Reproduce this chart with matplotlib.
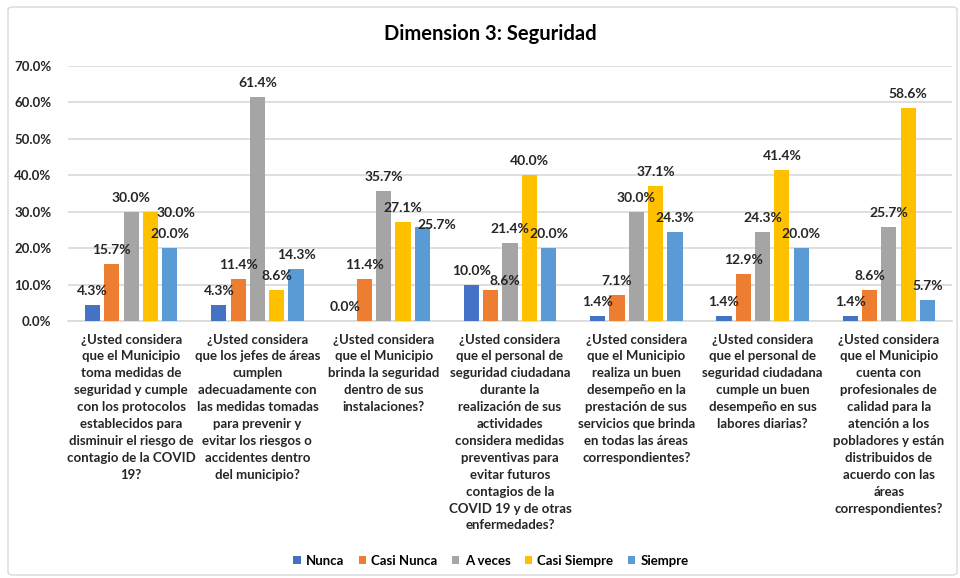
import matplotlib.pyplot as plt
import matplotlib.patches as mpatches
import numpy as np

plt.rcParams['font.family'] = ['Lato', 'DejaVu Sans']
plt.rcParams['font.weight'] = 'bold'

# Data
categories = [
    "¿Usted considera\nque el Municipio\ntoma medidas de\nseguridad y cumple\ncon los protocolos\nestablecidos para\ndisminuir el riesgo de\ncontagio de la COVID\n19?",
    "¿Usted considera\nque los jefes de áreas\ncumplen\nadecuadamente con\nlas medidas tomadas\npara prevenir y\nevitar los riesgos o\naccidentes dentro\ndel municipio?",
    "¿Usted considera\nque el Municipio\nbrinda la seguridad\ndentro de sus\ninstalaciones?",
    "¿Usted considera\nque el personal de\nseguridad ciudadana\ndurante la\nrealización de sus\nactividades\nconsidera medidas\npreventivas para\nevitar futuros\ncontagios de la\nCOVID 19 y de otras\nenfermedades?",
    "¿Usted considera\nque el Municipio\nrealiza un buen\ndesempeño en la\nprestación de sus\nservicios que brinda\nen todas las áreas\ncorrespondientes?",
    "¿Usted considera\nque el personal de\nseguridad ciudadana\ncumple un buen\ndesempeño en sus\nlabores diarias?",
    "¿Usted considera\nque el Municipio\ncuenta con\nprofesionales de\ncalidad para la\natención a los\npobladores y están\ndistribuidos de\nacuerdo con las\náreas\ncorrespondientes?",
]
series_names = ["Nunca", "Casi Nunca", "A veces", "Casi Siempre", "Siempre"]
nunca = [4.3, 4.3, 0.0, 10.0, 1.4, 1.4, 1.4]
casi_nunca = [15.7, 11.4, 11.4, 8.6, 7.1, 12.9, 8.6]
a_veces = [30.0, 61.4, 35.7, 21.4, 30.0, 24.3, 25.7]
casi_siempre = [30.0, 8.6, 27.1, 40.0, 37.1, 41.4, 58.6]
siempre = [20.0, 14.3, 25.7, 20.0, 24.3, 20.0, 5.7]
series = [nunca, casi_nunca, a_veces, casi_siempre, siempre]
colors = ["#4472C4", "#ED7D31", "#A5A5A5", "#FFC000", "#5B9BD5"]

# labels that were nudged aside in the original chart: (series, category) -> (dx, dy) px
label_nudge = {(3, 0): (26, -15), (4, 2): (14, -12), (1, 3): (14, -5)}

fig = plt.figure(figsize=(9.6, 5.78), dpi=100)
ax = fig.add_axes([68 / 960, 0.4446, 884 / 960, 0.4412])

px = 72 / 100  # pixels -> points
x = np.arange(len(categories))
width = 0.12
step = 0.153
for i, (vals, name, c) in enumerate(zip(series, series_names, colors)):
    xs = x + (i - 2) * step
    ax.bar(xs, vals, width, color=c, label=name, zorder=3)
    for j, (xv, v) in enumerate(zip(xs, vals)):
        dx, dy = label_nudge.get((i, j), (0, 0))
        ax.annotate(f"{v:.1f}%", (xv, v), xytext=(dx * px, (14 + dy) * px),
                    textcoords='offset points', ha='center', va='center',
                    fontsize=10, fontweight='bold', color='#262626', zorder=4)

ax.set_ylim(0, 70)
ax.set_xlim(-0.5, len(categories) - 0.5)
ax.set_yticks(np.arange(0, 71, 10))
ax.set_yticklabels([f"{v:.1f}%" for v in np.arange(0, 71, 10)],
                   fontsize=9.5, fontweight='bold', color='#262626')
ax.set_xticks(x)
ax.set_xticklabels(categories, fontsize=9.5, fontweight='bold',
                   color='#262626', linespacing=1.49, va='top')
ax.tick_params(axis='both', length=0)
ax.tick_params(axis='x', pad=9)
ax.tick_params(axis='y', pad=12)
ax.grid(axis='y', color='#D9D9D9', linewidth=1.2, zorder=0)
for s in ['top', 'right', 'left']:
    ax.spines[s].set_visible(False)
ax.spines['bottom'].set_color('#D9D9D9')
ax.spines['bottom'].set_linewidth(1.2)

# Title
fig.text(490 / 960, 1 - 34 / 578, "Dimension 3: Seguridad", ha='center', va='center',
         fontsize=14.5, fontweight='bold', color='#000000')

# Legend
fig.legend(loc='center', bbox_to_anchor=(491 / 960, 1 - 561 / 578), ncol=5,
           frameon=False, fontsize=9.5, handlelength=0.55, handleheight=0.55,
           handletextpad=0.4, columnspacing=1.1)

# Chart border
fig.patches.append(mpatches.FancyBboxPatch(
    (8 / 960, 3 / 578), 949 / 960, 568 / 578, boxstyle='round,pad=0,rounding_size=0.005',
    transform=fig.transFigure, fill=False, edgecolor='#D9D9D9', linewidth=1))

fig.savefig("out.png", dpi=100)
